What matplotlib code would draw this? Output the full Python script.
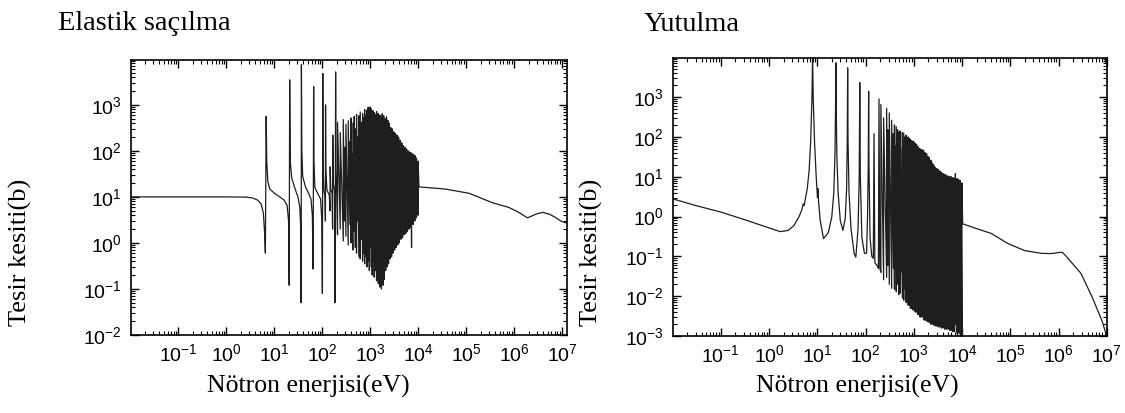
import numpy as np
import matplotlib
matplotlib.use('Agg')
import matplotlib.pyplot as plt
from matplotlib.ticker import FixedLocator, FixedFormatter, LogLocator, NullFormatter

# Testi generali: font sans per i numeri, serif per titoli ed etichette
plt.rcParams['font.family'] = 'Liberation Sans'
plt.rcParams['mathtext.fontset'] = 'custom'
plt.rcParams['mathtext.rm'] = 'Liberation Sans'

# ---- Elastik saçılma: zona liscia + risonanze isolate (eV, barn)
el_E = [0.01, 0.1, 1.0, 2.5, 3.5, 4.5, 5.3, 5.9, 6.3, 6.5,
        6.75, 6.95, 7.3, 8.0, 10, 13, 16, 18.5, 19.8, 20.4,
        20.9, 21.5, 23, 27, 31, 34, 35.6, 36.2, 36.7, 37.5,
        39, 45, 52, 58, 62, 64.5, 66.0, 67, 70, 80,
        92, 98, 100.5, 102.5, 104, 108, 114, 116.2, 117, 118.5,
        125, 140, 145, 146, 150, 160, 164, 165.5, 170, 180,
        185, 189.7, 193, 200]
el_sig = [10, 10, 10, 9.9, 9.5, 8.5, 7.0, 4.5, 1.5, 0.6,
          560, 60, 22, 15, 12, 10, 8.5, 6.5, 3, 0.12,
          3500, 60, 26, 15, 10, 6, 2, 0.05, 7500, 100,
          28, 16, 12, 9, 4, 0.27, 2500, 60, 16, 12,
          9, 3, 0.08, 4800, 50, 14, 10, 3, 1000, 40,
          14, 11, 5, 45, 15, 12, 2, 220, 20, 13,
          0.05, 5200, 40, 14]

# ---- zona fitta di risonanze (energie comuni ai due grafici)
dense_E = [208, 237, 274, 291, 311, 348, 377, 398, 410, 434,
           463, 478, 489, 518, 535, 580, 594, 619, 661, 693,
           708, 721, 765, 780, 820, 851, 866, 905, 937, 958,
           991, 1023, 1054, 1098, 1140, 1177, 1210, 1245, 1298, 1355,
           1405, 1475, 1522, 1598, 1663, 1711, 1780, 1846, 1910, 1975,
           2030, 2100, 2185, 2260, 2330, 2410, 2490, 2580, 2680, 2790,
           2890, 3000, 3110, 3230, 3360, 3480, 3610, 3750, 3900, 4050,
           4210, 4380, 4550, 4730, 4920, 5110, 5320, 5530, 5750, 5980,
           6220, 6470, 6730, 7000, 7280, 7570, 7880, 8190, 8520, 8860,
           9210, 9580, 9960]

el_dense_lo = [1.5, 2.0, 1.1, 3.0, 1.4, 0.9, 2.5, 1.0, 4.0, 0.7,
               1.8, 5.0, 0.8, 0.6, 3.0, 0.5, 2.0, 0.45, 1.2, 0.4,
               3.5, 0.6, 0.35, 2.0, 0.5, 0.3, 4.0, 0.4, 1.5, 0.25,
               0.8, 2.5, 0.3, 0.2, 1.0, 0.4, 0.18, 3.0, 0.25, 0.15,
               1.2, 0.13, 0.5, 0.11, 2.0, 0.1, 0.4, 0.12, 1.5, 0.16,
               0.6, 0.25, 3.0, 0.3, 0.9, 0.35, 2.5, 0.45, 0.7, 0.5,
               3.0, 0.6, 1.2, 0.7, 4.0, 0.8, 1.5, 0.9, 3.0, 1.0,
               2.0, 1.2, 4.0, 1.3, 2.5, 1.5, 5.0, 1.6, 3.0, 1.8,
               6.0, 2.0, 4.0, 2.2, 0.8, 5.0, 2.5, 6.0, 3.0, 7.0,
               3.5, 8.0, 4.0]
el_dense_hi = [420, 250, 480, 120, 380, 450, 160, 520, 90, 400,
               560, 140, 300, 620, 200, 580, 260, 700, 420, 650,
               180, 520, 800, 300, 600, 760, 150, 880, 350, 700,
               900, 420, 820, 600, 750, 480, 680, 300, 620, 720,
               380, 650, 560, 600, 280, 520, 640, 450, 580, 380,
               500, 420, 550, 300, 460, 350, 400, 280, 320, 250,
               300, 220, 260, 200, 240, 180, 220, 150, 200, 140,
               170, 120, 150, 110, 130, 95, 120, 85, 110, 80,
               100, 75, 95, 70, 90, 65, 85, 60, 80, 55,
               70, 50, 60]

el_tail_E = [10400, 12000, 37000, 115000, 350000, 780000, 1.26e6, 1.9e6,
             3.0e6, 4.0e6, 5.5e6, 7.2e6, 1.0e7, 1.25e7]
el_tail_sig = [16.5, 16.3, 14.8, 12.0, 7.5, 5.9, 4.6, 3.5,
               4.3, 4.6, 4.2, 3.6, 2.9, 2.7]

# ---- Yutulma
ab_E = [0.01, 0.03, 0.1, 0.3, 1.0, 1.7, 2.5, 3.3, 4.2, 4.8,
        5.1, 5.4, 5.6, 6.2, 6.8, 7.3, 7.75, 8.0, 8.25, 8.8,
        9.5, 10.1, 10.35, 10.6, 11.5, 13.5, 17, 20, 22, 23.3,
        24.0, 24.3, 24.6, 25.5, 27, 30, 34, 38, 40.5, 41.8,
        42.6, 43.4, 45.5, 50, 58, 63, 70, 74, 76, 78,
        84, 95, 105, 110, 114, 116, 118, 124, 135, 145,
        150, 156, 172, 185, 190, 198]
ab_sig = [2.8, 1.9, 1.3, 0.85, 0.52, 0.42, 0.45, 0.6, 1.0, 1.5,
          2.1, 1.9, 2.6, 5, 15, 80, 900, 12000, 900, 70,
          10, 3, 5, 2.5, 0.8, 0.28, 0.4, 1.0, 4, 40,
          800, 7200, 800, 30, 4, 0.8, 0.45, 0.9, 5, 80,
          5400, 80, 4, 0.5, 0.12, 0.096, 0.5, 10, 2300, 10,
          0.3, 0.12, 0.12, 1.0, 20, 1400, 20, 0.3, 0.1, 0.09,
          120, 0.07, 0.06, 0.05, 900, 0.05]

ab_dense_lo = [0.04, 0.026, 0.03, 0.06, 0.02, 0.016, 0.05, 0.015, 0.1, 0.013,
               0.02, 0.06, 0.011, 0.012, 0.04, 0.009, 0.02, 0.008, 0.015, 0.007,
               0.05, 0.01, 0.006, 0.02, 0.006, 0.005, 0.04, 0.005, 0.012, 0.0045,
               0.006, 0.02, 0.0042, 0.004, 0.008, 0.004, 0.0035, 0.02, 0.0035, 0.003,
               0.01, 0.003, 0.005, 0.0026, 0.015, 0.0025, 0.005, 0.0024, 0.01, 0.0023,
               0.004, 0.0022, 0.02, 0.002, 0.0035, 0.002, 0.008, 0.0019, 0.003, 0.0018,
               0.01, 0.0018, 0.003, 0.0017, 0.008, 0.0017, 0.004, 0.0016, 0.01, 0.0016,
               0.003, 0.0015, 0.007, 0.0015, 0.003, 0.0015, 0.01, 0.0014, 0.003, 0.0014,
               0.008, 0.0013, 0.003, 0.0013, 0.002, 0.006, 0.0012, 0.003, 0.0012, 0.005,
               0.0011, 0.002, 0.001]
ab_dense_hi = [650, 300, 520, 150, 400, 260, 120, 200, 60, 180,
               150, 70, 130, 140, 55, 130, 80, 125, 100, 110,
               45, 95, 100, 50, 90, 85, 35, 80, 60, 75,
               78, 40, 70, 55, 65, 38, 58, 30, 52, 50,
               28, 48, 40, 46, 22, 40, 35, 38, 20, 32,
               28, 30, 15, 26, 24, 22, 12, 20, 18, 17,
               10, 16, 14, 15, 8, 14, 12, 13, 7, 12,
               10, 11.5, 6, 11, 9, 10.5, 5, 10, 8, 10,
               4, 9.5, 7, 9, 12, 5, 9, 6, 8.5, 4,
               8, 6, 7]

ab_tail_E = [10300, 20000, 40000, 90000, 2e5, 4.4e5, 6.5e5, 8.5e5, 1.05e6,
             1.2e6, 1.4e6, 1.8e6, 2.9e6, 4.9e6, 7.9e6, 1.0e7]
ab_tail_sig = [0.66, 0.5, 0.38, 0.21, 0.14, 0.12, 0.118, 0.121, 0.127,
               0.126, 0.105, 0.074, 0.038, 0.01, 0.0025, 0.001]

x_tick_exp = [-1, 0, 1, 2, 3, 4, 5, 6, 7]
el_y_exp = [-2, -1, 0, 1, 2, 3]
ab_y_exp = [-3, -2, -1, 0, 1, 2, 3]


def costruisci(E, sig, lo, hi, tE, tsig):
    # zona fitta: per ogni risonanza valle e poi picco alla stessa energia
    xs = list(E)
    ys = list(sig)
    for e, a, b in zip(dense_E, lo, hi):
        xs += [e, e]
        ys += [a, b]
    return xs + list(tE), ys + list(tsig)


def sistema_assi(ax, y_exp, ylim, xlim):
    ax.set_xscale('log')
    ax.set_yscale('log')
    ax.set_xlim(*xlim)
    ax.set_ylim(*ylim)
    ax.xaxis.set_major_locator(FixedLocator([10.0 ** e for e in x_tick_exp]))
    ax.xaxis.set_major_formatter(FixedFormatter(
        [r'$\mathdefault{10^{%d}}$' % e for e in x_tick_exp]))
    ax.yaxis.set_major_locator(FixedLocator([10.0 ** e for e in y_exp]))
    ax.yaxis.set_major_formatter(FixedFormatter(
        [r'$\mathdefault{10^{%d}}$' % e for e in y_exp]))
    for a in (ax.xaxis, ax.yaxis):
        a.set_minor_locator(LogLocator(base=10, subs=np.arange(2, 10), numticks=100))
        a.set_minor_formatter(NullFormatter())
    ax.tick_params(which='both', direction='in', top=True, right=True)
    ax.tick_params(which='major', length=5.5, width=1.0, labelsize=14, pad=6)
    ax.tick_params(which='minor', length=2.8, width=0.8)
    for s in ax.spines.values():
        s.set_linewidth(1.2)


fig = plt.figure(figsize=(11.25, 4.13), dpi=100)
ax1 = fig.add_axes([0.116, 0.189, 0.3877, 0.666])
ax2 = fig.add_axes([0.5978, 0.186, 0.386, 0.673])

x1, y1 = costruisci(el_E, el_sig, el_dense_lo, el_dense_hi, el_tail_E, el_tail_sig)
x2, y2 = costruisci(ab_E, ab_sig, ab_dense_lo, ab_dense_hi, ab_tail_E, ab_tail_sig)

ax1.plot(x1, y1, color='#1e1e1e', lw=0.9)
ax2.plot(x2, y2, color='#1e1e1e', lw=0.9)

sistema_assi(ax1, el_y_exp, (1e-2, 9.5e3), (1e-2, 1.25e7))
sistema_assi(ax2, ab_y_exp, (1e-3, 9.4e3), (1e-2, 1e7))

serif = 'Liberation Serif'
fig.text(0.052, 0.927, 'Elastik saçılma', family=serif, fontsize=20.5, va='baseline')
fig.text(0.572, 0.925, 'Yutulma', family=serif, fontsize=20.5, va='baseline')
fig.text(0.018, 0.39, 'Tesir kesiti(b)', family=serif, fontsize=19,
         rotation=90, ha='center', va='center')
fig.text(0.526, 0.39, 'Tesir kesiti(b)', family=serif, fontsize=19,
         rotation=90, ha='center', va='center')
fig.text(0.274, 0.065, 'Nötron enerjisi(eV)', family=serif, fontsize=18.5,
         ha='center', va='center')
fig.text(0.762, 0.065, 'Nötron enerjisi(eV)', family=serif, fontsize=18.5,
         ha='center', va='center')

plt.savefig('out.png', dpi=100)
